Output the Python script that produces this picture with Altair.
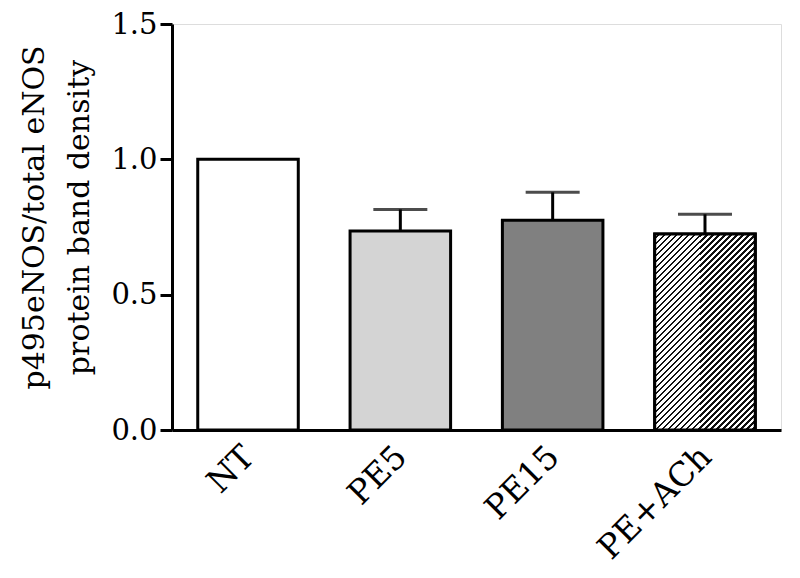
import altair as alt
import pandas as pd

categories = ["NT", "PE5", "PE15", "PE+ACh"]
means = [1.0, 0.735, 0.775, 0.724]
errors = [0.0, 0.080, 0.103, 0.073]
fills = ["#ffffff", "#d4d4d4", "#808080", "#ffffff"]

y_ticks = [0.0, 0.5, 1.0, 1.5]

df = pd.DataFrame({
    "group": categories,
    "mean": means,
    "upper": [m + e for m, e in zip(means, errors)],
    "fill": fills,
})
df_err = df[df["group"] != "NT"]

PLOT_W = 609
PLOT_H = 406
FONT = "DejaVu Serif"

# hatch gradient for PE+ACh (diagonal "/" stripes)
bar_w = 100.0
hatch_val = means[3]
bar_h = hatch_val / 1.5 * PLOT_H
r = bar_h / bar_w
period_px = 6.0
t_period = period_px / (bar_w * (1 + r * r))
stops = []
k = 0
while k * t_period < 1.0:
    s = k * t_period
    stops.append(alt.GradientStop(offset=min(s, 1.0), color="#ffffff"))
    stops.append(alt.GradientStop(offset=min(s + 0.55 * t_period, 1.0), color="#ffffff"))
    stops.append(alt.GradientStop(offset=min(s + 0.55 * t_period, 1.0), color="#111111"))
    stops.append(alt.GradientStop(offset=min(s + t_period, 1.0), color="#111111"))
    k += 1
hatch = alt.LinearGradient(gradient="linear", stops=stops, x1=0, y1=0, x2=1, y2=r)

x_enc = alt.X(
    "group:N",
    sort=categories,
    scale=alt.Scale(paddingInner=0.34, paddingOuter=0.169),
    axis=alt.Axis(
        title=None,
        labelAngle=-45,
        labelAlign="right",
        labelBaseline="top",
        labelFont=FONT,
        labelFontSize=33,
        labelColor="black",
        labelPadding=10,
        labelOffset=-10,
        ticks=False,
        domainColor="black",
        domainWidth=3,
        grid=False,
    ),
)
y_scale = alt.Scale(domain=[0, 1.5], nice=False)
y_enc = alt.Y(
    "mean:Q",
    scale=y_scale,
    axis=alt.Axis(
        values=y_ticks,
        format=".1f",
        title=["p495eNOS/total eNOS", "protein band density"],
        titleFont=FONT,
        titleFontSize=30,
        titleFontWeight="normal",
        titleColor="black",
        titleAngle=-90,
        titleX=-153,
        titleY=193,
        titleAlign="center",
        titleBaseline="top",
        titleLineHeight=45,
        labelFont=FONT,
        labelFontSize=29,
        labelColor="black",
        labelPadding=3,
        tickSize=12,
        tickWidth=3,
        tickColor="black",
        domainColor="black",
        domainWidth=3,
        grid=False,
    ),
)

bars = alt.Chart(df).mark_bar(stroke="black", strokeWidth=3).encode(
    x=x_enc,
    y=y_enc,
    fill=alt.Fill("fill:N", scale=None),
)

hatched = alt.Chart(df[df["group"] == "PE+ACh"]).mark_bar(
    stroke="black", strokeWidth=3, fill=hatch
).encode(
    x=alt.X("group:N", sort=categories),
    y=alt.Y("mean:Q", scale=y_scale),
)

err_line = alt.Chart(df_err).mark_rule(color="black", strokeWidth=3).encode(
    x=alt.X("group:N", sort=categories),
    y=alt.Y("mean:Q", scale=y_scale),
    y2="upper:Q",
)

err_cap = alt.Chart(df_err).mark_tick(
    color="black", thickness=3, size=54, orient="horizontal"
).encode(
    x=alt.X("group:N", sort=categories),
    y=alt.Y("upper:Q", scale=y_scale),
)

chart = alt.layer(err_line, err_cap, bars, hatched).properties(
    width=PLOT_W,
    height=PLOT_H,
    autosize=alt.AutoSizeParams(type="none"),
    padding={"left": 164, "top": 16, "right": 11, "bottom": 140},
).configure_view(stroke=None).configure(background="white")

chart.save("out.html", embed_options={"renderer": "svg", "actions": False})
